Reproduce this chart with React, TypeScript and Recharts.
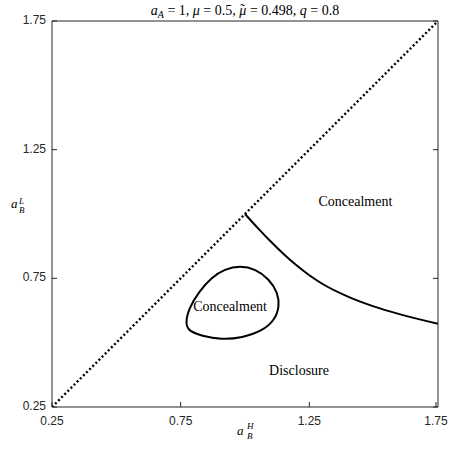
import React from "react";
import { ComposedChart, Line, XAxis, YAxis, ReferenceDot, Label } from "recharts";

const INK = "#262626";
const SANS = "'Liberation Sans', Arial, sans-serif";
const SERIF = "'Liberation Serif', 'Times New Roman', serif";

const DOMAIN: [number, number] = [0.25, 1.75];
const TICKS = [0.25, 0.75, 1.25, 1.75];

// 45-degree line a_B^L = a_B^H
const diagonalX = [0.25, 1.75];
const diagonalY = [0.25, 1.75];

// boundary between disclosure and concealment (upper right)
const boundaryX = [1.0, 1.05, 1.1, 1.15, 1.2, 1.25, 1.3, 1.4, 1.5, 1.6, 1.75];
const boundaryY = [1.0, 0.945, 0.893, 0.8445, 0.8005, 0.762, 0.729, 0.679, 0.641, 0.611, 0.5735];

// closed concealment island
const loopX = [0.981, 0.921, 0.869, 0.822, 0.782, 0.768, 0.782, 0.831, 0.909, 0.989, 1.068, 1.115, 1.134, 1.128, 1.094, 1.041];
const loopY = [0.799, 0.786, 0.753, 0.699, 0.634, 0.574, 0.545, 0.526, 0.512, 0.519, 0.546, 0.587, 0.64, 0.694, 0.747, 0.786];

const regionNames = ["Concealment", "Concealment", "Disclosure"];
const regionX = [1.429, 0.942, 1.21];
const regionY = [1.05, 0.642, 0.392];

const zip = (xs: number[], ys: number[]) => xs.map((x, i) => ({ x, y: ys[i] }));

const diagonal = zip(diagonalX, diagonalY);
const boundary = zip(boundaryX, boundaryY);
const loop = zip(loopX, loopY);

const fmt = (v: number) => v.toFixed(2);

// ticks point inwards, labels sit outside the box
function BottomTick({ x, y, payload }: any) {
  return (
    <g>
      <line x1={x} x2={x} y1={y} y2={y - 5} stroke={INK} />
      <text x={x} y={y + 18} textAnchor="middle" fontFamily={SANS} fontSize={12} fill={INK}>
        {fmt(payload.value)}
      </text>
    </g>
  );
}

function LeftTick({ x, y, payload }: any) {
  return (
    <g>
      <line x1={x} x2={x + 5} y1={y} y2={y} stroke={INK} />
      <text x={x - 6} y={y + 3} textAnchor="end" fontFamily={SANS} fontSize={12} fill={INK}>
        {fmt(payload.value)}
      </text>
    </g>
  );
}

function TopTick({ x, y }: any) {
  return <line x1={x} x2={x} y1={y} y2={y + 5} stroke={INK} />;
}

function RightTick({ x, y }: any) {
  return <line x1={x} x2={x - 5} y1={y} y2={y} stroke={INK} />;
}

function TitleLabel({ viewBox }: any) {
  const cx = viewBox.x + viewBox.width / 2;
  return (
    <text x={cx} y={15} textAnchor="middle" fontFamily={SERIF} fontSize={14} fill="#000">
      <tspan fontStyle="italic">a</tspan>
      <tspan fontStyle="italic" fontSize={10} dy={3}>A</tspan>
      <tspan dy={-3}>{" = 1, "}</tspan>
      <tspan fontStyle="italic">μ</tspan>
      <tspan>{" = 0.5, "}</tspan>
      <tspan fontStyle="italic">μ</tspan>
      <tspan dx={-6} dy={-1}>{"\u02DC"}</tspan>
      <tspan dx={1.5} dy={1}>{" = 0.498, "}</tspan>
      <tspan fontStyle="italic">q</tspan>
      <tspan>{" = 0.8"}</tspan>
    </text>
  );
}

function XLabel({ viewBox }: any) {
  const cx = viewBox.x + viewBox.width / 2;
  return (
    <g fontFamily={SERIF} fill="#000" fontStyle="italic">
      <text x={cx - 8} y={435} fontSize={13}>a</text>
      <text x={cx + 2} y={429} fontSize={9}>H</text>
      <text x={cx + 2} y={439} fontSize={9}>B</text>
    </g>
  );
}

function YLabel() {
  return (
    <g fontFamily={SERIF} fill="#000" fontStyle="italic">
      <text x={11} y={208} fontSize={13}>a</text>
      <text x={19} y={204} fontSize={9}>L</text>
      <text x={19} y={213} fontSize={9}>B</text>
    </g>
  );
}

export default function App() {
  return (
    <div style={{ position: "absolute", left: 0, top: 0, background: "#fff" }}>
      <ComposedChart width={450} height={449} margin={{ top: 0, right: 0, bottom: 0, left: 0 }}>
        <XAxis
          xAxisId={0}
          type="number"
          dataKey="x"
          domain={DOMAIN}
          ticks={TICKS}
          allowDataOverflow
          height={42}
          tickSize={0}
          tickMargin={0}
          tickLine={false}
          tick={<BottomTick />}
          axisLine={{ stroke: INK }}
        >
          <Label content={<XLabel />} />
        </XAxis>
        <XAxis
          xAxisId="top"
          orientation="top"
          type="number"
          domain={DOMAIN}
          ticks={TICKS}
          allowDataOverflow
          height={21}
          tickSize={0}
          tickMargin={0}
          tickLine={false}
          tick={<TopTick />}
          axisLine={{ stroke: INK }}
        >
          <Label content={<TitleLabel />} />
        </XAxis>
        <YAxis
          yAxisId={0}
          type="number"
          dataKey="y"
          domain={DOMAIN}
          ticks={TICKS}
          allowDataOverflow
          width={52}
          tickSize={0}
          tickMargin={0}
          tickLine={false}
          tick={<LeftTick />}
          axisLine={{ stroke: INK }}
        >
          <Label content={<YLabel />} />
        </YAxis>
        <YAxis
          yAxisId="right"
          orientation="right"
          type="number"
          domain={DOMAIN}
          ticks={TICKS}
          allowDataOverflow
          width={12}
          tickSize={0}
          tickMargin={0}
          tickLine={false}
          tick={<RightTick />}
          axisLine={{ stroke: INK }}
        />

        <Line
          data={diagonal}
          dataKey="y"
          type="linear"
          stroke="#000"
          strokeWidth={2.4}
          strokeDasharray="2 2.4"
          dot={false}
          activeDot={false}
          isAnimationActive={false}
        />
        <Line
          data={boundary}
          dataKey="y"
          type="monotone"
          stroke="#000"
          strokeWidth={2}
          dot={false}
          activeDot={false}
          isAnimationActive={false}
        />
        <Line
          data={loop}
          dataKey="y"
          type="basisClosed"
          stroke="#000"
          strokeWidth={2}
          dot={false}
          activeDot={false}
          isAnimationActive={false}
        />

        {regionNames.map((name, i) => (
          <ReferenceDot
            key={i}
            x={regionX[i]}
            y={regionY[i]}
            r={0}
            stroke="none"
            fill="none"
            label={{ value: name, position: "center", fill: "#000", fontSize: 14, fontFamily: SERIF }}
          />
        ))}
      </ComposedChart>
    </div>
  );
}
